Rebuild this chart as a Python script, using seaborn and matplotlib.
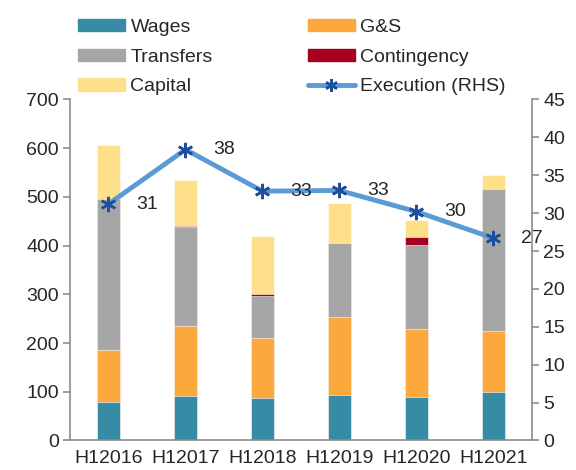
import numpy as np
import pandas as pd
import seaborn as sns
import matplotlib.pyplot as plt
from matplotlib.patches import Patch
from matplotlib.lines import Line2D

# Data
periods = ["H12016", "H12017", "H12018", "H12019", "H12020", "H12021"]
wages = [80, 91, 87, 93, 89, 100]
goods_services = [105, 144, 124, 160, 139, 124]
transfers = [311, 204, 86, 153, 174, 292]
contingency = [0, 2, 4, 0, 15, 0]
capital = [110, 93, 119, 82, 36, 29]
execution = [31.2, 38.4, 32.9, 33.0, 30.2, 26.7]
execution_labels = ["31", "38", "33", "33", "30", "27"]

colors = {
    "Wages": "#378BA4",
    "G&S": "#FBA93C",
    "Transfers": "#A6A6A6",
    "Contingency": "#A50021",
    "Capital": "#FFE08A",
}
line_color = "#5B9BD5"
marker_color = "#1F4E9C"
spine_color = "#8C8C8C"
fs = 14

sns.set_style("white")
plt.rcParams["font.family"] = ["Liberation Sans", "DejaVu Sans"]
plt.rcParams["font.size"] = fs

df = pd.DataFrame({
    "period": periods,
    "Wages": wages,
    "G&S": goods_services,
    "Transfers": transfers,
    "Contingency": contingency,
    "Capital": capital,
})
components = ["Wages", "G&S", "Transfers", "Contingency", "Capital"]
cum = df[components].cumsum(axis=1)

fig = plt.figure(figsize=(5.76, 4.70), dpi=100)
ax = fig.add_axes([0.1215, 0.0628, 0.802, 0.7255])

# stacked bars: draw cumulative totals from the top down
for comp in reversed(components):
    sns.barplot(x=df["period"], y=cum[comp], color=colors[comp], width=0.31,
                saturation=1, ax=ax, edgecolor="white", linewidth=0.4)

ax.set_ylim(0, 700)
ax.set_yticks(range(0, 701, 100))
ax.set_xlim(-0.5, 5.5)
ax.set_xlabel("")
ax.set_ylabel("")
ax.set_xticks(np.arange(len(periods)))
ax.set_xticklabels(periods)
ax.tick_params(axis="x", length=0, pad=7, labelsize=fs)
ax.set_xticks(np.arange(len(periods) + 1) - 0.5, minor=True)
ax.tick_params(axis="x", which="minor", direction="in", length=4,
               color=spine_color, width=1.2)
ax.tick_params(axis="y", length=5, color=spine_color, width=1.2, labelsize=fs, pad=3)
for side in ["top", "right"]:
    ax.spines[side].set_visible(False)
for side in ["left", "bottom"]:
    ax.spines[side].set_color(spine_color)
    ax.spines[side].set_linewidth(1.2)

# execution line on the right axis
ax2 = ax.twinx()
x_pos = np.arange(len(periods))
sns.lineplot(x=x_pos, y=execution, ax=ax2, color=line_color, linewidth=3.5,
             marker=(6, 2, 0), markersize=11, markeredgecolor=marker_color,
             markeredgewidth=1.8, markerfacecolor=marker_color)
for xp, yv, lab in zip(x_pos, execution, execution_labels):
    ax2.annotate(lab, (xp, yv), xytext=(20, 0), textcoords="offset points",
                 ha="left", va="center", fontsize=fs)
ax2.set_ylim(0, 45)
ax2.set_yticks(range(0, 46, 5))
ax2.set_xlim(-0.5, 5.5)
ax2.tick_params(axis="y", length=5, color=spine_color, width=1.2, labelsize=fs, pad=3)
for side in ["top", "left", "bottom"]:
    ax2.spines[side].set_visible(False)
ax2.spines["right"].set_color(spine_color)
ax2.spines["right"].set_linewidth(1.2)

handles = [
    Patch(color=colors["Wages"], label="Wages"),
    Patch(color=colors["Transfers"], label="Transfers"),
    Patch(color=colors["Capital"], label="Capital"),
    Patch(color=colors["G&S"], label="G&S"),
    Patch(color=colors["Contingency"], label="Contingency"),
    Line2D([], [], color=line_color, linewidth=3.5, marker=(6, 2, 0),
           markersize=9, markeredgecolor=marker_color, markeredgewidth=1.8,
           label="Execution (RHS)"),
]
fig.legend(handles=handles, ncol=2, loc="upper left",
           bbox_to_anchor=(0.115, 0.985), frameon=False, fontsize=fs,
           handlelength=2.4, handleheight=0.6, handletextpad=0.3,
           labelspacing=0.66, columnspacing=4.9, borderaxespad=0.2)

fig.savefig("out.png", dpi=100)
